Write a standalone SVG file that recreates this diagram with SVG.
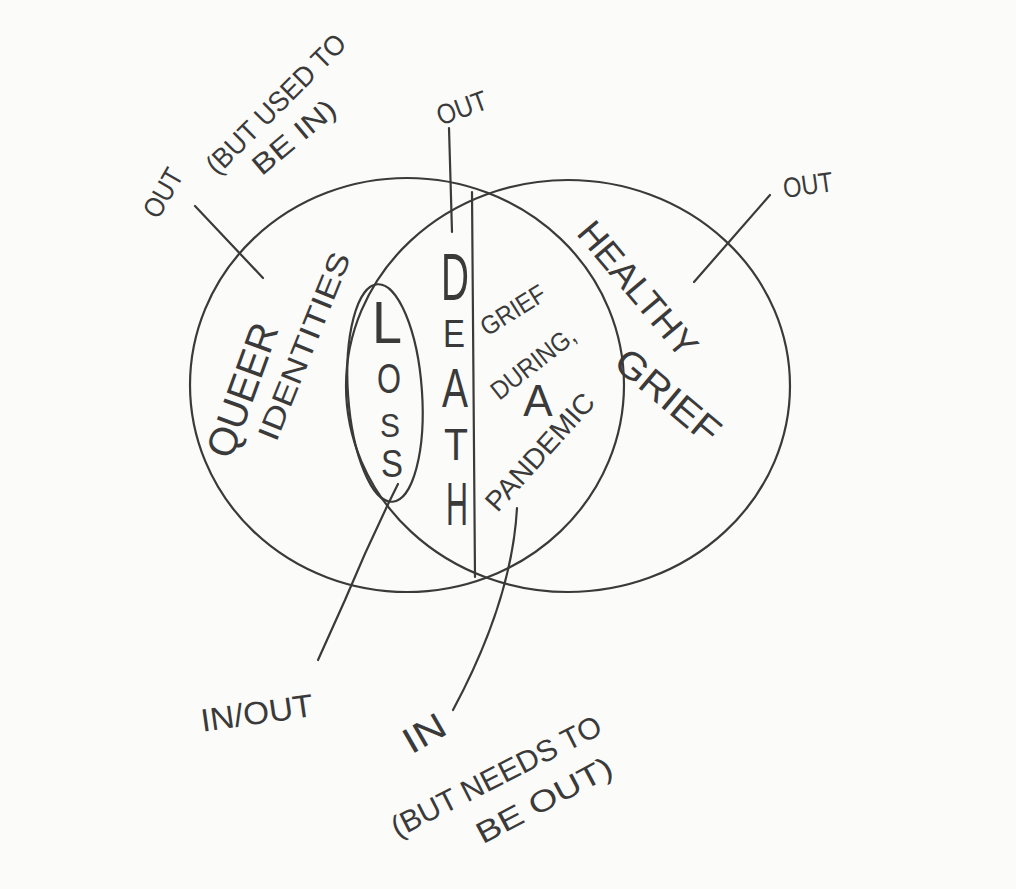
<svg xmlns="http://www.w3.org/2000/svg" width="1016" height="889" viewBox="0 0 1016 889">
<style>
.ln{fill:none;stroke:#3a3a3a;stroke-width:2.2;stroke-linecap:round}
.t{font-family:"Liberation Sans","DejaVu Sans",sans-serif;fill:#3a3a3a;text-anchor:middle;dominant-baseline:central}
.c{font-family:"Liberation Sans","DejaVu Sans",sans-serif;fill:#3a3a3a;text-anchor:middle}
</style>
<rect width="1016" height="889" fill="#fbfbf9"/>
<g id="connectors">
<line class="ln" x1="449" y1="128" x2="452" y2="232"/>
<line class="ln" x1="472" y1="192" x2="475" y2="577"/>
<line class="ln" x1="195" y1="206" x2="263" y2="278"/>
<line class="ln" x1="770" y1="195" x2="694" y2="282"/>
<path class="ln" d="M398 484 Q370 540 345 600 Q328 638 318 660"/>
<path class="ln" d="M517 508 Q512 600 453 710"/>
</g>
<g id="queer-identities">
<ellipse class="ln" cx="407" cy="385" rx="217" ry="207"/>
<text class="t" x="242" y="390" font-size="40" transform="rotate(-70 242 390)" textLength="140" lengthAdjust="spacingAndGlyphs">QUEER</text>
<text class="t" x="304" y="346" font-size="30" transform="rotate(-68 304 346)" textLength="200" lengthAdjust="spacingAndGlyphs">IDENTITIES</text>
</g>
<g id="healthy-grief">
<ellipse class="ln" cx="568" cy="386" rx="222" ry="206"/>
<text class="t" x="638" y="289" font-size="36" transform="rotate(50 638 289)" textLength="165" lengthAdjust="spacingAndGlyphs">HEALTHY</text>
<text class="t" x="668" y="396" font-size="38" transform="rotate(40 668 396)" textLength="125" lengthAdjust="spacingAndGlyphs">GRIEF</text>
</g>
<g id="loss">
<ellipse class="ln" cx="385" cy="393" rx="37" ry="109" transform="rotate(-4 385 393)"/>
<text class="c" x="387" y="343" font-size="60" textLength="30" lengthAdjust="spacingAndGlyphs">L</text>
<text class="c" x="389" y="393" font-size="42" textLength="24" lengthAdjust="spacingAndGlyphs">O</text>
<text class="c" x="390" y="437" font-size="33" textLength="20" lengthAdjust="spacingAndGlyphs">S</text>
<text class="c" x="392" y="477" font-size="38" textLength="22" lengthAdjust="spacingAndGlyphs">S</text>
</g>
<g id="death">
<text class="c" x="455" y="300" font-size="66" textLength="28" lengthAdjust="spacingAndGlyphs">D</text>
<text class="c" x="454" y="347" font-size="38" textLength="22" lengthAdjust="spacingAndGlyphs">E</text>
<text class="c" x="455" y="407" font-size="56" textLength="26" lengthAdjust="spacingAndGlyphs">A</text>
<text class="c" x="456" y="460" font-size="45" textLength="24" lengthAdjust="spacingAndGlyphs">T</text>
<text class="c" x="457" y="525" font-size="62" textLength="22" lengthAdjust="spacingAndGlyphs">H</text>
</g>
<g id="grief-pandemic">
<text class="t" x="513" y="310" font-size="26" transform="rotate(-32 513 310)" textLength="72" lengthAdjust="spacingAndGlyphs">GRIEF</text>
<text class="t" x="533" y="363" font-size="26" transform="rotate(-38 533 363)" textLength="100" lengthAdjust="spacingAndGlyphs">DURING,</text>
<text class="t" x="538" y="400" font-size="44">A</text>
<text class="t" x="540" y="452" font-size="28" transform="rotate(-48 540 452)" textLength="148" lengthAdjust="spacingAndGlyphs">PANDEMIC</text>
</g>
<g id="label-out-top">
<text class="t" x="462" y="108" font-size="28" transform="rotate(-20 462 108)" textLength="52" lengthAdjust="spacingAndGlyphs">OUT</text>
</g>
<g id="label-out-left">
<text class="t" x="163" y="193" font-size="28" transform="rotate(-60 163 193)" textLength="52" lengthAdjust="spacingAndGlyphs">OUT</text>
<text class="t" x="276" y="104" font-size="28" transform="rotate(-45 276 104)" textLength="185" lengthAdjust="spacingAndGlyphs">(BUT USED TO</text>
<text class="t" x="294" y="137" font-size="28" transform="rotate(-40 294 137)" textLength="100" lengthAdjust="spacingAndGlyphs">BE IN)</text>
</g>
<g id="label-out-right">
<text class="t" x="808" y="185" font-size="28" transform="rotate(-8 808 185)" textLength="50" lengthAdjust="spacingAndGlyphs">OUT</text>
</g>
<g id="label-in-out">
<text class="t" x="257" y="713" font-size="32" transform="rotate(-8 257 713)" textLength="113" lengthAdjust="spacingAndGlyphs">IN/OUT</text>
</g>
<g id="label-in">
<text class="t" x="424" y="733" font-size="36" transform="rotate(-30 424 733)" textLength="44" lengthAdjust="spacingAndGlyphs">IN</text>
<text class="t" x="496" y="776" font-size="30" transform="rotate(-27 496 776)" textLength="232" lengthAdjust="spacingAndGlyphs">(BUT NEEDS TO</text>
<text class="t" x="544" y="800" font-size="30" transform="rotate(-28 544 800)" textLength="150" lengthAdjust="spacingAndGlyphs">BE OUT)</text>
</g>
</svg>
